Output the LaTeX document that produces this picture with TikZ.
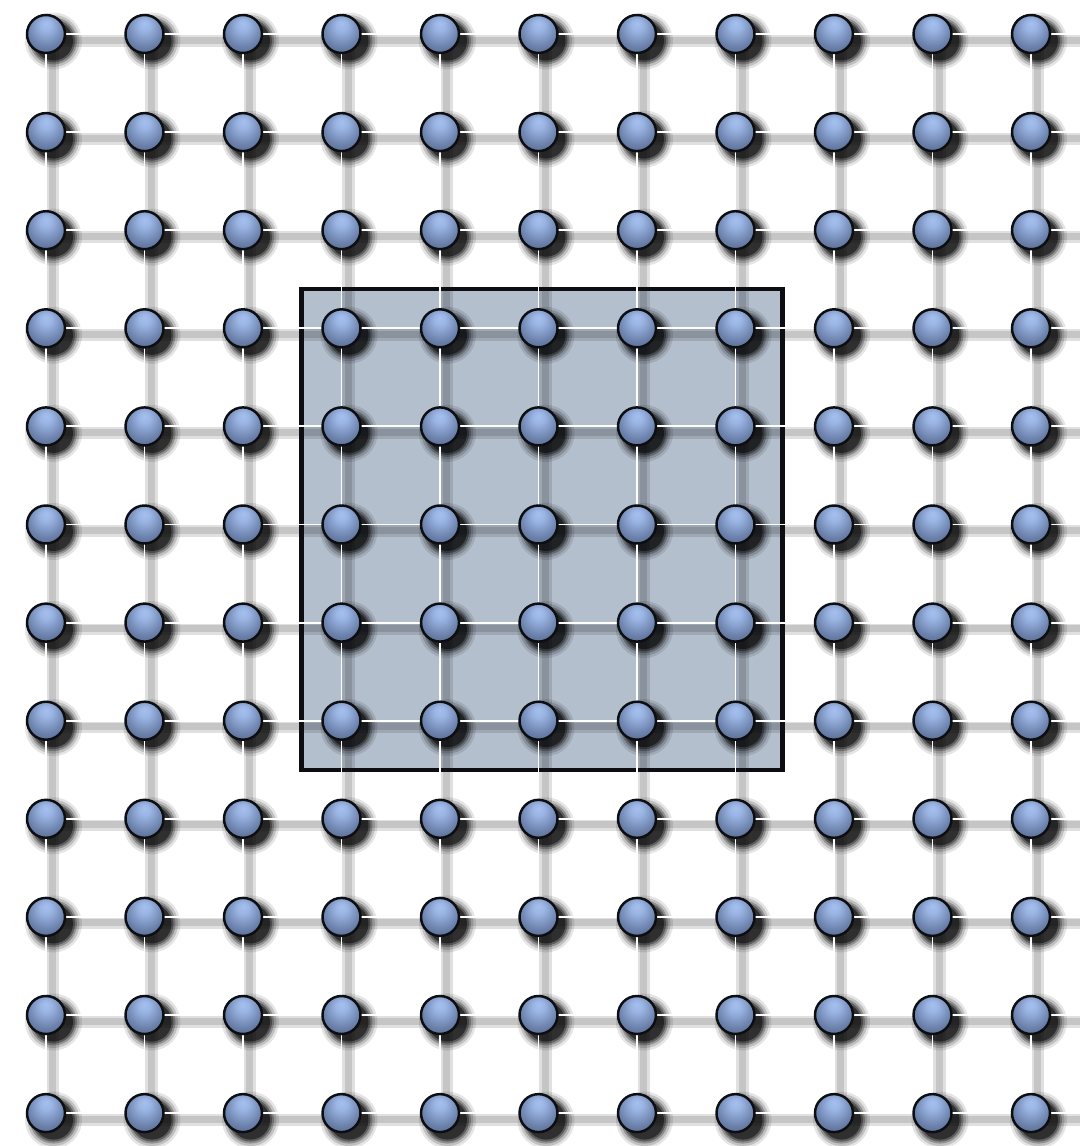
\documentclass[tikz,border=0pt]{standalone}
\usepackage{tikz}
\usetikzlibrary{calc}
\definecolor{ink}{RGB}{12,14,18}
\definecolor{ballhi}{RGB}{165,192,240}
\definecolor{ballmid}{RGB}{108,130,172}
\definecolor{balllo}{RGB}{58,70,96}
\definecolor{pane}{RGB}{180,191,205}
\pgfdeclareradialshading{knob}{\pgfpoint{0bp}{14bp}}{color(0bp)=(ballhi); color(8bp)=(ballhi!80!ballmid); color(24bp)=(ballmid); color(46bp)=(balllo); color(50bp)=(balllo)}

\begin{document}
\begin{tikzpicture}[
 ball/.style={circle,draw=ink,line width=1.4pt,shading=knob,minimum size=0.76cm,inner sep=0pt},
 wire/.style={white,line width=1.1pt},
 wireshade/.style={black,line width=#1,opacity=0.12},
 ballshade/.style={black,opacity=#1},
 frame/.style={draw=ink,line width=2.4pt}]
 \useasboundingbox (0,0) rectangle (21.58,-22.92);
 % lattice sites (p) and their shadow points (q)
 \foreach \r in {0,...,11}{
   \coordinate (e-\r) at (21.7,{-0.68-1.962*\r});
   \coordinate (f-\r) at (21.83,{-0.80-1.962*\r});
   \foreach \c in {0,...,10}{
     \coordinate (p-\c-\r) at ({0.92+1.97*\c},{-0.68-1.962*\r});
     \coordinate (q-\c-\r) at ({1.05+1.97*\c},{-0.80-1.962*\r});
   }
 }
 % highlighted block
 \fill[pane] ($(p-3-3)+(-0.8,0.78)$) rectangle ($(p-7-7)+(0.94,-0.98)$);
 % soft shadows of bonds and balls
 \foreach \w in {0.26cm,0.14cm}{
   \draw[wireshade=\w]
     \foreach \r in {0,...,11}{
       \foreach \c [evaluate=\c as \d using int(\c+1)] in {0,...,9}{ (q-\c-\r) -- (q-\d-\r) }
       (q-10-\r) -- (f-\r)
     }
     \foreach \c in {0,...,10}{
       \foreach \r [evaluate=\r as \s using int(\r+1)] in {0,...,10}{ (q-\c-\r) -- (q-\c-\s) }
     };
 }
 \foreach \rad/\op in {0.57/0.1,0.52/0.16,0.47/0.25,0.43/0.35,0.39/0.5}{
   \fill[ballshade=\op] \foreach \r in {0,...,11}{\foreach \c in {0,...,10}{ ($(q-\c-\r)+(0.02,-0.02)$) circle (\rad) }};
 }
 \draw[frame] ($(p-3-3)+(-0.8,0.78)$) rectangle ($(p-7-7)+(0.94,-0.98)$);
 % bonds
 \draw[wire]
   \foreach \r in {0,...,11}{
     \foreach \c [evaluate=\c as \d using int(\c+1)] in {0,...,9}{ (p-\c-\r) -- (p-\d-\r) }
     (p-10-\r) -- (e-\r)
   }
   \foreach \c in {0,...,10}{
     \foreach \r [evaluate=\r as \s using int(\r+1)] in {0,...,10}{ (p-\c-\r) -- (p-\c-\s) }
   };
 % balls
 \foreach \r in {0,...,11}{
   \foreach \c in {0,...,10}{
     \node[ball] (n-\c-\r) at (p-\c-\r) {};
   }
 }
\end{tikzpicture}
\end{document}
